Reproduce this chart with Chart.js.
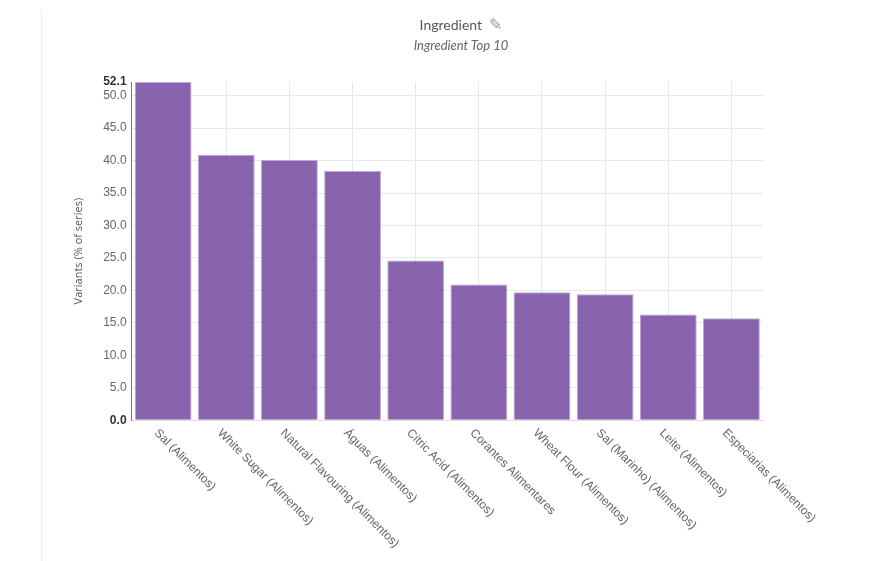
<!DOCTYPE html>
<html>
<head>
<meta charset="utf-8">
<script src="https://cdn.jsdelivr.net/npm/chart.js@4/dist/chart.umd.min.js"></script>
<style>
  html, body { margin: 0; padding: 0; background: #fff; }
  #frame { position: absolute; left: 41px; top: 10px; width: 849px; height: 551px; border-left: 1px solid #ececec; }
  #wrap { position: absolute; left: 0; top: -10px; width: 839px; height: 561px; }
  .ttl { position: absolute; left: 361px; width: 200px; text-align: center; font-family: Lato, sans-serif; white-space: nowrap; }
  #title { top: 16px; font-size: 14px; color: #555; }
  #title span { color: #999; font-family: "DejaVu Sans", sans-serif; font-size: 16px; margin-left: 7px; line-height: 14px; }
  #subtitle { top: 37px; font-size: 13px; font-style: italic; color: #666; }
</style>
</head>
<body>
<div id="frame">
  <div id="wrap"><canvas id="chart"></canvas></div>
</div>
<div class="ttl" id="title">Ingredient<span>&#x270E;</span></div>
<div class="ttl" id="subtitle">Ingredient Top 10</div>
<script>
const categories = [
  'Sal (Alimentos)',
  'White Sugar (Alimentos)',
  'Natural Flavouring (Alimentos)',
  'Águas (Alimentos)',
  'Citric Acid (Alimentos)',
  'Corantes Alimentares',
  'Wheat Flour (Alimentos)',
  'Sal (Marinho) (Alimentos)',
  'Leite (Alimentos)',
  'Especiarias (Alimentos)'
];
const variants = [52.1, 40.9, 40.1, 38.4, 24.6, 20.9, 19.7, 19.4, 16.3, 15.7];
const yTicks = [0, 5, 10, 15, 20, 25, 30, 35, 40, 45, 50, 52.1];
const yMax = 52.1;

// x labels go down to the right, which Chart.js can't rotate that way,
// so the real ticks are kept for layout but drawn here instead
const slantLabels = {
  id: 'slantLabels',
  afterDraw(chart) {
    const ctx = chart.ctx;
    const xs = chart.scales.x;
    ctx.save();
    ctx.font = '12px "Liberation Sans", Arial, sans-serif';
    ctx.fillStyle = '#666';
    ctx.textAlign = 'left';
    ctx.textBaseline = 'middle';
    xs.ticks.forEach((t, i) => {
      const x = xs.getPixelForTick(i);
      ctx.save();
      ctx.translate(x - 7, xs.top + 11);
      ctx.rotate(Math.PI / 4);
      ctx.fillText(categories[i], 0, 0);
      ctx.restore();
    });
    ctx.restore();
  }
};

new Chart(document.getElementById('chart'), {
  type: 'bar',
  data: {
    labels: categories,
    datasets: [{
      label: 'Variants',
      data: variants,
      backgroundColor: 'rgba(106, 61, 154, 0.8)',
      borderColor: 'rgba(185, 160, 210, 0.9)',
      borderWidth: 1,
      barPercentage: 0.9,
      categoryPercentage: 1.0
    }]
  },
  plugins: [slantLabels],
  options: {
    responsive: true,
    maintainAspectRatio: false,
    animation: false,
    layout: { padding: { left: 26, right: 118, top: 82, bottom: 4 } },
    plugins: {
      legend: { display: false },
      tooltip: { enabled: false }
    },
    scales: {
      x: {
        grid: { offset: false, color: '#e8e8e8', drawTicks: false },
        border: { color: '#dcdcdc' },
        ticks: {
          color: 'rgba(0,0,0,0)',
          font: { family: 'Liberation Sans', size: 12 },
          minRotation: 45,
          maxRotation: 45,
          padding: 6
        }
      },
      y: {
        min: 0,
        max: yMax,
        afterBuildTicks: (scale) => {
          scale.ticks = yTicks.map(v => ({ value: v }));
        },
        grid: {
          color: (c) => c.tick && c.tick.value === yMax ? 'rgba(0,0,0,0)' : '#e8e8e8',
          drawTicks: false
        },
        border: { color: '#777', width: 1 },
        title: {
          display: true,
          text: 'Variants (% of series)',
          color: '#555',
          font: { family: 'Open Sans', size: 11 },
          padding: { bottom: 13 }
        },
        ticks: {
          padding: 5,
          color: (c) => (c.tick.value === 0 || c.tick.value === yMax) ? '#333' : '#666',
          font: (c) => ({
            family: 'Liberation Sans',
            size: 12,
            weight: (c.tick && (c.tick.value === 0 || c.tick.value === yMax)) ? 'bold' : 'normal'
          }),
          callback: (v) => Number(v).toFixed(1)
        }
      }
    }
  }
});
</script>
</body>
</html>
